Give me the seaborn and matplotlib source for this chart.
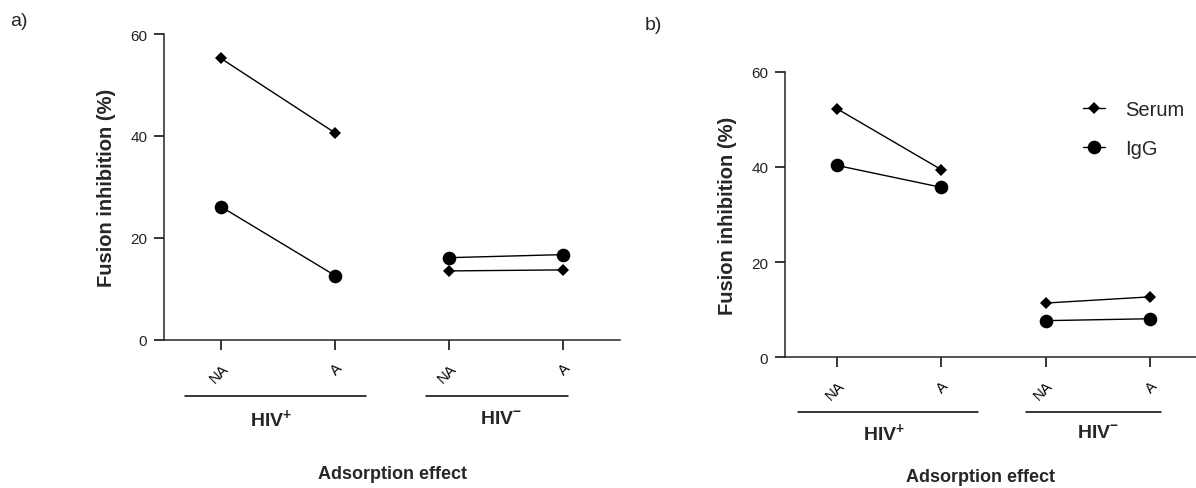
import numpy as np
import pandas as pd
import matplotlib
matplotlib.use("Agg")
import matplotlib.pyplot as plt
import seaborn as sns
from matplotlib.lines import Line2D
from matplotlib.transforms import blended_transform_factory

# ---- data -------------------------------------------------------------
conditions = ["NA", "A", "NA", "A"]
groups = ["HIV+", "HIV+", "HIV-", "HIV-"]
group_names = ["HIV+", "HIV-"]
group_labels = [r"HIV$^{\mathbf{+}}$", r"HIV$^{\mathbf{-}}$"]
series_names = ["Serum", "IgG"]

serum_a = [55.2, 40.6, 13.5, 13.7]
igg_a = [26.1, 12.6, 16.1, 16.7]
serum_b = [52.2, 39.4, 11.4, 12.7]
igg_b = [40.3, 35.7, 7.7, 8.1]

y_ticks = [0, 20, 40, 60]


def make_frame(serum, igg):
    rows = []
    for name, vals in zip(series_names, [serum, igg]):
        for i, (c, g, v) in enumerate(zip(conditions, groups, vals)):
            rows.append({"pos": i, "condition": c, "group": g,
                         "series": name, "value": v})
    return pd.DataFrame(rows)


df_a = make_frame(serum_a, igg_a)
df_b = make_frame(serum_b, igg_b)

# ---- style ------------------------------------------------------------
sns.set_style("ticks")
plt.rcParams["font.family"] = ["Liberation Sans", "DejaVu Sans"]
plt.rcParams["mathtext.fontset"] = "custom"
plt.rcParams["mathtext.rm"] = "Liberation Sans"
plt.rcParams["mathtext.bf"] = "Liberation Sans:bold"
plt.rcParams["axes.linewidth"] = 1.1

W, H = 1196, 489
fig = plt.figure(figsize=(W / 100, H / 100), dpi=100)


def px_axes(l, t, r, b):
    return fig.add_axes([l / W, 1 - b / H, (r - l) / W, (b - t) / H])


marker_map = {"Serum": "D", "IgG": "o"}
size_map = {"Serum": 6.4, "IgG": 9.8}


def draw_panel(ax, df, xmax, line_y, label_y, spans, label_x, xlabel_x, xlabel_y):
    for name in series_names:
        sub = df[df["series"] == name]
        sns.lineplot(data=sub, x="pos", y="value", units="group",
                     estimator=None, color="black", linewidth=1.0,
                     marker=marker_map[name], markersize=size_map[name],
                     markeredgewidth=0, ax=ax, legend=False)
    ax.set_xlim(-0.5, xmax)
    ax.set_ylim(0, 60)
    ax.set_yticks(y_ticks)
    ax.set_xticks(range(len(conditions)))
    ax.set_xticklabels(conditions, rotation=45, ha="right",
                       rotation_mode="anchor", fontsize=10.5)
    ax.tick_params(axis="x", length=7, width=1.1, pad=8, colors="black")
    ax.tick_params(axis="y", length=7, width=1.1, pad=5, labelsize=11,
                   colors="black")
    for lab in ax.get_yticklabels():
        lab.set_color("#222222")
    sns.despine(ax=ax)
    ax.set_xlabel("")
    ax.set_ylabel("Fusion inhibition (%)", fontsize=14.5, fontweight="bold",
                  labelpad=10)

    tr = blended_transform_factory(ax.transData, fig.transFigure)
    for (x0, x1), lx, lab in zip(spans, label_x, group_labels):
        ax.add_line(Line2D([x0, x1], [1 - line_y / H] * 2, transform=tr,
                           color="black", linewidth=1.1, clip_on=False))
        ax.text(lx, 1 - label_y / H, lab, transform=tr, ha="center",
                va="center", fontsize=14, fontweight="bold")
    fig.text(xlabel_x / W, 1 - xlabel_y / H, "Adsorption effect",
             ha="center", va="center", fontsize=13, fontweight="bold")


ax_a = px_axes(164, 35, 620, 340.7)
draw_panel(ax_a, df_a, 3.5, 397, 420,
           [(-0.32, 1.27), (1.80, 3.04)], [0.44, 2.46], 392, 475)

ax_b = px_axes(785, 72.7, 1196, 358.3)
draw_panel(ax_b, df_b, 3.44, 413, 434,
           [(-0.375, 1.35), (1.81, 3.10)], [0.45, 2.50], 980, 478)

handles = [Line2D([], [], color="black", linewidth=1.0,
                  marker=marker_map[n], markersize=size_map[n],
                  markeredgewidth=0) for n in series_names]
ax_b.legend(handles, series_names, loc="upper left",
            bbox_to_anchor=(1083 / W, 1 - 101 / H),
            bbox_transform=fig.transFigure, frameon=False, borderpad=0,
            borderaxespad=0, handlelength=1.1, handletextpad=1.0,
            labelspacing=1.0, fontsize=14.5)

fig.text(10 / W, 1 - 22 / H, "a)", fontsize=14, va="center", ha="left")
fig.text(645 / W, 1 - 25 / H, "b)", fontsize=14, va="center", ha="left")

fig.savefig("out.png", dpi=100)
